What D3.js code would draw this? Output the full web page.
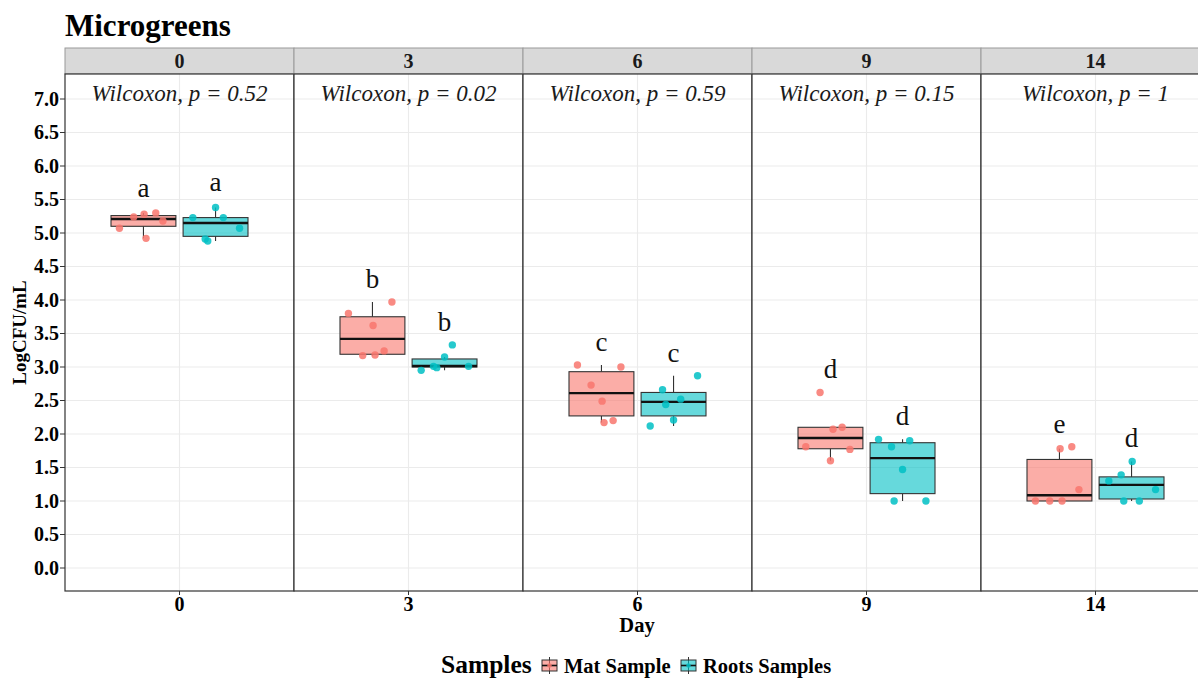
<!DOCTYPE html>
<html>
<head>
<meta charset="utf-8">
<script src="https://cdn.jsdelivr.net/npm/d3@7"></script>
<style>
  html, body { margin: 0; padding: 0; background: #fff; }
  svg { display: block; font-family: "Liberation Serif", "Times New Roman", serif; }
</style>
</head>
<body>
<svg id="chart" width="1198" height="679"></svg>
<script>
// ---------------- data ----------------
const days = ["0", "3", "6", "9", "14"];
const samples = ["Mat Sample", "Roots Samples"];
const pValues = ["0.52", "0.02", "0.59", "0.15", "1"];
const yTicks = [0.0, 0.5, 1.0, 1.5, 2.0, 2.5, 3.0, 3.5, 4.0, 4.5, 5.0, 5.5, 6.0, 6.5, 7.0];

// observations per day (LogCFU/mL)
const matPoints = [
  [5.07, 5.24, 5.28, 5.30, 5.18, 4.92],
  [3.80, 3.97, 3.62, 3.17, 3.18, 3.24],
  [3.03, 3.00, 2.73, 2.49, 2.17, 2.20],
  [2.62, 2.07, 2.10, 1.81, 1.77, 1.60],
  [1.78, 1.81, 1.17, 1.00, 1.00, 1.00]
];
const rootsPoints = [
  [5.23, 5.38, 5.23, 5.07, 4.91, 4.88],
  [2.95, 3.01, 2.99, 3.15, 3.33, 3.01],
  [2.87, 2.66, 2.52, 2.44, 2.21, 2.12],
  [1.92, 1.90, 1.81, 1.47, 1.00, 1.00],
  [1.59, 1.39, 1.30, 1.17, 1.00, 1.00]
];
// horizontal jitter, as a fraction of box width
const matJitter = [
  [-0.37, -0.15, 0.01, 0.19, 0.30, 0.04],
  [-0.37, 0.30, 0.01, -0.15, 0.04, 0.18],
  [-0.37, 0.30, -0.16, 0.01, 0.04, 0.18],
  [-0.16, 0.04, 0.18, -0.38, 0.30, 0.00],
  [0.01, 0.19, 0.30, -0.37, -0.15, 0.04]
];
const rootsJitter = [
  [-0.35, 0.00, 0.12, 0.37, -0.16, -0.12],
  [-0.36, -0.17, -0.12, 0.00, 0.12, 0.37],
  [0.37, -0.17, 0.11, -0.12, 0.00, -0.36],
  [-0.37, 0.11, -0.17, 0.00, -0.13, 0.36],
  [0.01, -0.16, -0.35, 0.37, -0.12, 0.12]
];
// box statistics [lower whisker, q1, median, q3, upper whisker]
const matBox = [
  [4.92, 5.10, 5.21, 5.26, 5.30],
  [3.17, 3.19, 3.42, 3.75, 3.97],
  [2.17, 2.27, 2.61, 2.93, 3.03],
  [1.60, 1.78, 1.94, 2.10, 2.10],
  [1.00, 1.00, 1.085, 1.62, 1.78]
];
const rootsBox = [
  [4.88, 4.95, 5.15, 5.23, 5.38],
  [2.95, 3.00, 3.015, 3.12, 3.15],
  [2.12, 2.27, 2.48, 2.62, 2.87],
  [1.00, 1.11, 1.64, 1.87, 1.92],
  [1.00, 1.03, 1.24, 1.36, 1.59]
];
// significance letters and their heights
const matLetters = ["a", "b", "c", "d", "e"];
const matLetterY = [5.53, 4.18, 3.24, 2.83, 2.02];
const rootsLetters = ["a", "b", "c", "d", "d"];
const rootsLetterY = [5.62, 3.54, 3.07, 2.14, 1.81];

const colors = { "Mat Sample": "#F8766D", "Roots Samples": "#00BFC4" };

// ---------------- layout ----------------
const svg = d3.select("#chart");
const panelLeft = 65, panelW = 229;
const panelTop = 74, panelBottom = 591;
const stripTop = 48;

const xPanel = d3.scaleBand().domain(days).range([panelLeft, panelLeft + panelW * days.length]).paddingInner(0).paddingOuter(0);
const xSample = d3.scaleBand().domain(samples).range([-68.5, 68.5]).paddingInner(0.1);
const y = d3.scaleLinear().domain([(568 - panelBottom) / 67, (568 - panelTop) / 67]).range([panelBottom, panelTop]);

// title
svg.append("text").attr("x", 65).attr("y", 36)
  .attr("font-size", 31).attr("font-weight", "bold").attr("fill", "#000")
  .text("Microgreens");

const groups = [
  { name: "Mat Sample", pts: matPoints, jit: matJitter, box: matBox, letters: matLetters, ly: matLetterY },
  { name: "Roots Samples", pts: rootsPoints, jit: rootsJitter, box: rootsBox, letters: rootsLetters, ly: rootsLetterY }
];

days.forEach((d, i) => {
  const x0 = xPanel(d);
  const cx = x0 + xPanel.bandwidth() / 2;
  const g = svg.append("g");

  // strip
  g.append("rect").attr("x", x0).attr("y", stripTop).attr("width", panelW).attr("height", panelTop - stripTop)
    .attr("fill", "#d9d9d9").attr("stroke", "#9a9a9a").attr("stroke-width", 1);
  g.append("text").attr("x", cx).attr("y", 68).attr("text-anchor", "middle")
    .attr("font-size", 20).attr("font-weight", "bold").attr("fill", "#1a1a1a").text(d);

  // panel background + grid
  g.append("rect").attr("x", x0).attr("y", panelTop).attr("width", panelW).attr("height", panelBottom - panelTop)
    .attr("fill", "#fff");
  yTicks.forEach(t => {
    g.append("line").attr("x1", x0).attr("x2", x0 + panelW).attr("y1", y(t)).attr("y2", y(t))
      .attr("stroke", "#ebebeb").attr("stroke-width", 1.1);
  });
  g.append("line").attr("x1", cx).attr("x2", cx).attr("y1", panelTop).attr("y2", panelBottom)
    .attr("stroke", "#ebebeb").attr("stroke-width", 1.1);

  // boxes
  groups.forEach(gr => {
    const bx = cx + xSample(gr.name);
    const bw = xSample.bandwidth();
    const bc = bx + bw / 2;
    const [lo, q1, med, q3, hi] = gr.box[i];
    g.append("line").attr("x1", bc).attr("x2", bc).attr("y1", y(q3)).attr("y2", y(hi))
      .attr("stroke", "#333").attr("stroke-width", 1.1);
    g.append("line").attr("x1", bc).attr("x2", bc).attr("y1", y(q1)).attr("y2", y(lo))
      .attr("stroke", "#333").attr("stroke-width", 1.1);
    g.append("rect").attr("x", bx).attr("y", y(q3)).attr("width", bw).attr("height", y(q1) - y(q3))
      .attr("fill", colors[gr.name]).attr("fill-opacity", 0.6)
      .attr("stroke", "#333").attr("stroke-width", 1.1);
    g.append("line").attr("x1", bx).attr("x2", bx + bw).attr("y1", y(med)).attr("y2", y(med))
      .attr("stroke", "#111").attr("stroke-width", 2.4);
  });
  // points
  groups.forEach(gr => {
    const bx = cx + xSample(gr.name);
    const bw = xSample.bandwidth();
    const bc = bx + bw / 2;
    gr.pts[i].forEach((v, k) => {
      g.append("circle").attr("cx", bc + gr.jit[i][k] * bw).attr("cy", y(v)).attr("r", 3.7)
        .attr("fill", colors[gr.name]).attr("fill-opacity", 0.85);
    });
    g.append("text").attr("x", bc).attr("y", y(gr.ly[i])).attr("text-anchor", "middle")
      .attr("font-size", 27).attr("fill", "#111").text(gr.letters[i]);
  });

  // wilcoxon label
  const wt = g.append("text").attr("x", cx).attr("y", 101).attr("text-anchor", "middle")
    .attr("font-family", "'Liberation Serif', serif")
    .attr("font-size", 23).attr("font-style", "italic").attr("fill", "#1a1a1a");
  wt.text("Wilcoxon, p = " + pValues[i]);

  // panel border
  g.append("rect").attr("x", x0).attr("y", panelTop).attr("width", panelW).attr("height", panelBottom - panelTop)
    .attr("fill", "none").attr("stroke", "#333").attr("stroke-width", 1.2);

  // x tick
  g.append("line").attr("x1", cx).attr("x2", cx).attr("y1", panelBottom).attr("y2", panelBottom + 4)
    .attr("stroke", "#333").attr("stroke-width", 1);
  g.append("text").attr("x", cx).attr("y", 611).attr("text-anchor", "middle")
    .attr("font-size", 20).attr("font-weight", "bold").attr("fill", "#000").text(d);
});

// y axis
const yAxis = svg.append("g");
yTicks.forEach(t => {
  yAxis.append("line").attr("x1", panelLeft - 5).attr("x2", panelLeft).attr("y1", y(t)).attr("y2", y(t))
    .attr("stroke", "#333").attr("stroke-width", 1);
  yAxis.append("text").attr("x", panelLeft - 6).attr("y", y(t) + 6.5).attr("text-anchor", "end")
    .attr("font-size", 20).attr("font-weight", "bold").attr("fill", "#000").text(t.toFixed(1));
});
svg.append("text").attr("transform", "translate(26," + (panelTop + panelBottom) / 2 + ") rotate(-90)")
  .attr("text-anchor", "middle").attr("font-size", 19).attr("font-weight", "bold").attr("fill", "#000")
  .text("LogCFU/mL");

// x axis title
svg.append("text").attr("x", 637).attr("y", 632).attr("text-anchor", "middle")
  .attr("font-size", 20.5).attr("font-weight", "bold").attr("fill", "#000").text("Day");

// legend
const lg = svg.append("g");
lg.append("text").attr("x", 441).attr("y", 673).attr("font-size", 25.5).attr("font-weight", "bold")
  .attr("fill", "#000").text("Samples");
const keyX = { "Mat Sample": 542, "Roots Samples": 681 };
const labX = { "Mat Sample": 564, "Roots Samples": 703 };
samples.forEach(s => {
  const kx = keyX[s];
  lg.append("line").attr("x1", kx + 7.5).attr("x2", kx + 7.5).attr("y1", 657).attr("y2", 674)
    .attr("stroke", "#333").attr("stroke-width", 1);
  lg.append("rect").attr("x", kx).attr("y", 660).attr("width", 15).attr("height", 11)
    .attr("fill", colors[s]).attr("fill-opacity", 0.6).attr("stroke", "#333").attr("stroke-width", 1);
  lg.append("line").attr("x1", kx).attr("x2", kx + 15).attr("y1", 665.5).attr("y2", 665.5)
    .attr("stroke", "#111").attr("stroke-width", 1.6);
  lg.append("circle").attr("cx", kx + 7.5).attr("cy", 665.5).attr("r", 2.2)
    .attr("fill", colors[s]).attr("fill-opacity", 0.85);
  lg.append("text").attr("x", labX[s]).attr("y", 673).attr("font-size", 20.5).attr("font-weight", "bold")
    .attr("fill", "#000").text(s);
});
</script>
</body>
</html>
